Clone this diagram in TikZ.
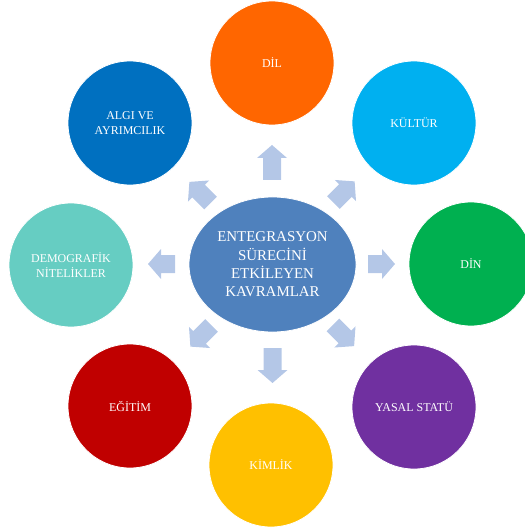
\documentclass[tikz,border=0pt]{standalone}
\usepackage{fontspec}
\setmainfont{Liberation Serif}
\usetikzlibrary{shapes.geometric}
\definecolor{cDil}{HTML}{FF6600}
\definecolor{cKultur}{HTML}{00B0F0}
\definecolor{cDin}{HTML}{00B050}
\definecolor{cYasal}{HTML}{7030A0}
\definecolor{cKimlik}{HTML}{FFC000}
\definecolor{cEgitim}{HTML}{C00000}
\definecolor{cDemo}{HTML}{66CDC2}
\definecolor{cAlgi}{HTML}{0070C0}
\definecolor{cCenter}{HTML}{4F81BD}
\definecolor{cArrow}{RGB}{180,199,231}
\begin{document}
\begin{tikzpicture}[x=1bp,y=-1bp,
  topic/.style={circle,draw=white,line width=0.8bp,minimum size=124bp,inner sep=0pt,
    text=white,align=center,font=\fontsize{12}{15}\selectfont},
  hub/.style={ellipse,draw=white,line width=0.8bp,fill=cCenter,minimum width=167bp,minimum height=135bp,
    inner sep=0pt,text=white,align=center,font=\fontsize{15}{18.5}\selectfont},
  blockarrow/.pic={
    \fill[cArrow] (-\arrlen/2,-9) -- (\arrlen/2-13,-9) -- (\arrlen/2-13,-15) -- (\arrlen/2,0)
      -- (\arrlen/2-13,15) -- (\arrlen/2-13,9) -- (-\arrlen/2,9) -- cycle;
  }]
\useasboundingbox (0,0) rectangle (525,528);
\clip (0,0) rectangle (525,528);
\node[hub] (hub) at (272.5,264.5)
  {ENTEGRASYON\\SÜRECİNİ\\ETKİLEYEN\\KAVRAMLAR};
\node[topic,fill=cDil] (dil) at (272,63) {DİL};
\node[topic,fill=cKultur] (kultur) at (414,123) {KÜLTÜR};
\node[topic,fill=cDin] (din) at (471,264) {DİN};
\node[topic,fill=cYasal] (yasal) at (414,407) {YASAL STATÜ};
\node[topic,fill=cKimlik] (kimlik) at (271,465) {KİMLİK};
\node[topic,fill=cEgitim] (egitim) at (130,406) {EĞİTİM};
\node[topic,fill=cDemo] (demo) at (71,265) {DEMOGRAFİK\\NİTELİKLER};
\node[topic,fill=cAlgi] (algi) at (130,123) {ALGI VE\\AYRIMCILIK};
\def\arrlen{35}
\pic[rotate=90] at (272,162.5) {blockarrow};
\pic[rotate=-90] at (272.5,365.5) {blockarrow};
\def\arrlen{27}
\pic[rotate=0] at (381.5,264) {blockarrow};
\pic[rotate=180] at (161.5,264) {blockarrow};
\def\arrlen{30}
\pic[rotate=45] at (344,192) {blockarrow};
\pic[rotate=135] at (200,192.5) {blockarrow};
\pic[rotate=-45] at (343.5,335.5) {blockarrow};
\pic[rotate=-135] at (201,336) {blockarrow};
\end{tikzpicture}
\end{document}
